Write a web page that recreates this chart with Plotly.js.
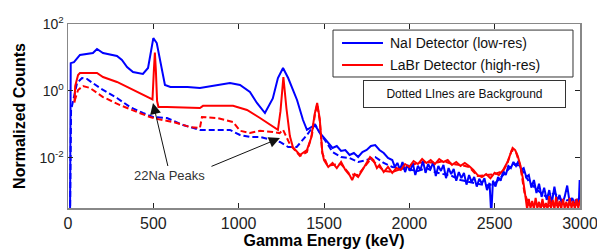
<!DOCTYPE html>
<html>
<head>
<meta charset="utf-8">
<script src="https://cdn.plot.ly/plotly-3.0.1.min.js"></script>
<style>html,body{margin:0;padding:0;background:#fff;}#chart{width:597px;height:250px;}</style>
</head>
<body>
<div id="chart"></div>
<script>
// Gamma energy (keV) and normalized counts
const naiSrcE = [12,16,35,70,146,170,205,287,316,346,381,439,469,485,500,520,551,568,600,700,773,873,949,1008,1066,1107,1154,1200,1230,1260,1290,1342,1377,1400,1425,1447,1476,
  1500,1525,1550,1575,1600,1625,1650,1675,1700,1725,1750,1775,1800,1825,1850,1875,
  1900,1915,1930,1945,1960,1975,1990,2005,2020,2035,2050,2065,2080,2095,2110,2125,2140,2155,2170,2185,2200,2215,2230,2245,2260,2275,2290,2305,2320,2335,2350,2365,2380,2395,2410,2425,2440,2455,2470,2480,2490,2505,2520,2535,2550,2565,2580,2595,2610,2625,2640,2655,2670,2685,2700,2715,2730,2745,2760,2775,2790,2805,2820,2835,2850,2865,2880,2895,2910,2925,2940,2955,2970,2985,2993,2998];
const naiSrcC = [0.0002,6.8,7.3,11.9,13.6,17.9,13.6,11.1,8.4,5.2,3.69,3.22,4.86,16.7,38,27,4.24,1.51,1.32,1.32,1.23,1.51,1.73,1.51,0.93,0.44,0.22,0.6,2.44,4.86,2.44,0.54,0.136,0.069,0.085,0.097,0.056,
  0.0395,0.0281,0.0199,0.0228,0.0162,0.0173,0.0123,0.0141,0.0107,0.0151,0.0173,0.0228,0.0244,0.0173,0.0141,0.0100,
  0.0087,0.0054,0.0071,0.0044,0.0076,0.0038,0.0062,0.0041,0.0071,0.0031,0.0058,0.0044,0.0081,0.0036,0.0066,0.0047,0.0076,0.0029,0.0058,0.0041,0.0062,0.0025,0.0050,0.0033,0.0047,0.0021,0.0038,0.0025,0.0036,0.0016,0.0031,0.0019,0.0027,0.0014,0.0024,0.0017,0.0025,0.0011,0.0018,0.0002,0.0021,0.0014,0.0027,0.0021,0.0041,0.0031,0.0058,0.0050,0.0076,0.0058,0.0081,0.0044,0.0050,0.0027,0.0031,0.0013,0.0022,0.0009,0.0017,0.00069,0.0013,0.00056,0.0011,0.00045,0.0014,0.00052,0.00079,0.00042,0.00069,0.0015,0.00045,0.00064,0.0004,0.0006,0.00045,0.0022];

const labrSrcE = [38,42,59,70,170,205,287,346,422,480,495,503,509,515,522,530,580,773,791,967,1049,1125,1201,1230,1245,1262,1280,1300,1318,1359,1400,1425,1445,1460,1475,1490,
  1500,1510,1525,1550,1575,1600,1625,1650,1665,1680,1700,1725,1750,1770,1790,1810,1825,1850,1875,1900,1925,1950,1975,2000,2025,2050,2075,2100,2125,2150,2175,2200,2225,2250,2275,2300,2325,2350,2375,2400,2425,2450,2475,2500,2525,2550,2575,2590,2605,2620,2635,2650,2665,
  2680,2690,2700,2710,2720,2730,2740,2750,2760,2770,2780,2790,2800,2810,2820,2830,2840,2850,2860,2870,2880,2890,2900,2910,2920,2930,2940,2950,2960,2970,2980,2990,3000];
const labrSrcC = [0.45,1.4,3.0,3.45,3.45,2.62,1.86,1.32,0.87,0.618,0.56,4.0,14,4.0,0.5,0.333,0.333,0.311,0.36,0.36,0.271,0.156,0.084,0.069,0.25,2.62,0.3,0.045,0.021,0.0123,0.0173,0.04,0.2,0.44,0.15,0.015,
  0.0087,0.0071,0.0054,0.0071,0.0050,0.0076,0.0044,0.0031,0.0022,0.0033,0.0027,0.0044,0.0071,0.0107,0.0087,0.0050,0.0062,0.0038,0.0054,0.0036,0.0050,0.0044,0.0066,0.0054,0.0081,0.0066,0.0093,0.0071,0.0087,0.0066,0.0093,0.0076,0.0087,0.0062,0.0076,0.0058,0.0071,0.0058,0.0044,0.0031,0.0027,0.0033,0.0025,0.0036,0.0031,0.0044,0.0076,0.0123,0.0199,0.0173,0.0115,0.0062,0.0025,
  0.00073,0.0003,0.0006,0.00032,0.00052,0.0003,0.00064,0.00032,0.00049,0.0003,0.0006,0.00032,0.00045,0.0003,0.00073,0.00032,0.00056,0.0003,0.00069,0.00032,0.00052,0.0003,0.0006,0.00032,0.00049,0.0003,0.00064,0.00032,0.00052,0.0003,0.0006,0.00032,0.00056];

const naiBgE = [12,18,53,82,111,187,287,363,439,498,580,674,773,949,1008,1066,1125,1200,1242,1290,1340,1400,1430,1450,1476,1517,1550,1600,1650,1700,1750,1800,1850,1900,1950,2000,2050,2100,2150,2200,2250,2300,2350,2400,2450,2500,2550,2600,2630,2660,2700,2750,2800,2850,2900,2950,3000];
const naiBgC = [0.0002,0.27,1.73,2.44,2.28,1.23,0.618,0.333,0.221,0.168,0.156,0.0966,0.0686,0.0686,0.0486,0.0424,0.0424,0.0345,0.0301,0.0213,0.0213,0.0486,0.0787,0.0966,0.0558,0.0281,0.0151,0.0107,0.0100,0.0076,0.0087,0.0107,0.0071,0.0054,0.0050,0.0044,0.0041,0.0050,0.0038,0.0033,0.0029,0.0022,0.0019,0.0017,0.0015,0.0017,0.0031,0.0058,0.0066,0.0044,0.0020,0.0011,0.0007,0.0009,0.0005,0.0006,0.0005];

const labrBgE = [38,59,88,129,205,305,404,480,540,615,715,773,785,873,967,1008,1066,1125,1201,1240,1260,1280,1301,1359,1400,1430,1447,1460,1475,1490,1520,1550,1600,1650,1700,1750,1775,1800,1850,1900,1950,2000,2050,2100,2150,2200,2250,2300,2350,2400,2450,2500,2550,2575,2600,2625,2650,2675,2700,2800,2900,3000];
const labrBgC = [0.5,1.07,1.41,1.23,0.66,0.38,0.236,0.168,0.14,0.119,0.084,0.079,0.168,0.156,0.119,0.065,0.056,0.065,0.06,0.055,0.07,0.04,0.025,0.0115,0.015,0.05,0.2,0.40,0.13,0.014,0.006,0.0062,0.0066,0.0033,0.0031,0.0066,0.0093,0.0071,0.0041,0.0038,0.0047,0.0058,0.0071,0.0076,0.0071,0.0081,0.0066,0.0062,0.0054,0.0029,0.0031,0.0033,0.0041,0.0071,0.017,0.0150,0.0058,0.0009,0.0004,0.00037,0.0004,0.0004];

const seriesNames = ['NaI Detector (low-res)','LaBr Detector (high-res)'];
const noteText = 'Dotted LInes are Background';
const peakText = '22Na Peaks';
const xTickVals = [0,500,1000,1500,2000,2500,3000];
const yTickVals = [0.01,1,100];
const yTickText = ['10<sup>-2</sup>','10<sup>0</sup>','10<sup>2</sup>'];

const BLUE = '#0000ff', RED = '#ff0000';
const traces = [
  {x: naiBgE, y: naiBgC, mode:'lines', line:{color:BLUE,width:2,dash:'6px,3px'}, showlegend:false, hoverinfo:'skip'},
  {x: labrBgE, y: labrBgC, mode:'lines', line:{color:RED,width:2,dash:'6px,3px'}, showlegend:false, hoverinfo:'skip'},
  {x: naiSrcE, y: naiSrcC, mode:'lines', name: seriesNames[0], line:{color:BLUE,width:2}, showlegend:false},
  {x: labrSrcE, y: labrSrcC, mode:'lines', name: seriesNames[1], line:{color:RED,width:2}, showlegend:false}
];

const FONT = 'Arial, "Liberation Sans", sans-serif';
// legend drawn as a framed box with line samples (paper coordinates)
const shapes = [
  {type:'rect', xref:'paper', yref:'paper', x0:0.5176, x1:0.9863, y0:0.712, y1:0.967, line:{color:'#333', width:1}, fillcolor:'#fff', layer:'above'},
  {type:'line', xref:'paper', yref:'paper', x0:0.5352, x1:0.6152, y0:0.8967, y1:0.8967, line:{color:BLUE, width:2}, layer:'above'},
  {type:'line', xref:'paper', yref:'paper', x0:0.5352, x1:0.6152, y0:0.7772, y1:0.7772, line:{color:RED, width:2}, layer:'above'}
];
const layout = {
  width:597, height:250,
  margin:{l:68, r:17, t:24, b:42},
  paper_bgcolor:'#fff', plot_bgcolor:'#fff',
  font:{family:FONT, color:'#222'},
  showlegend:false,
  shapes: shapes,
  xaxis:{range:[0,3000], tickvals:xTickVals, ticks:'inside', ticklen:5, tickcolor:'#222', showline:true, linecolor:'#888', linewidth:1.5,
         mirror:'ticks', showgrid:false, zeroline:false, ticklabeloverflow:'allow', tickfont:{size:16, family:FONT, color:'#222'},
         title:{text:'Gamma Energy (keV)', font:{size:16, family:FONT, color:'#000', weight:'bold'}, standoff:4}},
  yaxis:{type:'log', range:[-3.493,2.0], tickvals:yTickVals, ticktext:yTickText, ticks:'inside', ticklen:5, tickcolor:'#222',
         showline:true, linecolor:'#888', linewidth:1.5, mirror:'ticks', showgrid:false, zeroline:false,
         tickfont:{size:14, family:FONT, color:'#222'},
         title:{text:'Normalized Counts', font:{size:16, family:FONT, color:'#000', weight:'bold'}, standoff:10}},
  annotations:[
    {xref:'paper', yref:'paper', x:0.625, y:0.8967, xanchor:'left', yanchor:'middle', text:seriesNames[0], showarrow:false, font:{size:14, family:FONT, color:'#111'}},
    {xref:'paper', yref:'paper', x:0.625, y:0.7772, xanchor:'left', yanchor:'middle', text:seriesNames[1], showarrow:false, font:{size:14, family:FONT, color:'#111'}},
    {xref:'paper', yref:'paper', x:0.5762, y:0.6957, xanchor:'left', yanchor:'top', text:noteText, showarrow:false,
     font:{size:12, family:FONT, color:'#111'}, bordercolor:'#333', borderwidth:1, bgcolor:'#fff', width:199, height:24, align:'center'},
    {x:498, y:Math.log10(0.438), ax:17, ay:72, text:peakText, showarrow:true, arrowhead:2, arrowsize:2.2, arrowwidth:1, arrowcolor:'#111',
     font:{size:13, family:FONT, color:'#333'}},
    {x:1242, y:Math.log10(0.0395), ax:-70, ay:29, text:'', showarrow:true, arrowhead:2, arrowsize:2.2, arrowwidth:1, arrowcolor:'#111'}
  ]
};
Plotly.newPlot('chart', traces, layout, {displayModeBar:false, staticPlot:true});
</script>
</body>
</html>
